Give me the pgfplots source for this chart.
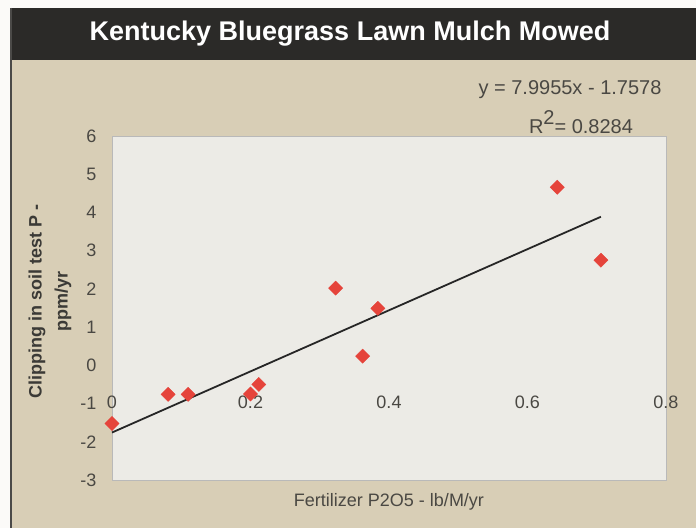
\documentclass[border=0pt]{standalone}
\usepackage{fontspec}
\setmainfont{Liberation Sans}
\usepackage{pgfplots}
\pgfplotsset{compat=1.18}
\definecolor{hdr}{HTML}{2B2A28}
\definecolor{tanbg}{HTML}{D8CEB6}
\definecolor{plotbg}{HTML}{ECEBE6}
\definecolor{mk}{HTML}{E5443B}
\definecolor{txt}{HTML}{4A4843}
\begin{document}
\begin{tikzpicture}[x=1pt,y=1pt]
\fill[white!90!tanbg] (0,0) rectangle (696,-528);
\fill[tanbg] (10,-60) rectangle (696,-528);
\fill[hdr] (10,-8) rectangle (696,-60);
\draw[hdr!85, line width=2pt] (11,-8) -- (11,-528);
\node[text=white, font=\fontsize{27}{30}\selectfont\bfseries] at (350,-34) {Kentucky Bluegrass Lawn Mulch Mowed};
\node[text=txt, font=\fontsize{20}{24}\selectfont] at (570,-90) {y = 7.9955x - 1.7578};
\node[text=txt, font=\fontsize{20}{24}\selectfont] at (581,-122) {R\raisebox{9pt}{2}= 0.8284};
\begin{axis}[
  at={(112pt,-480pt)}, anchor=south west,
  scale only axis, width=554pt, height=344pt,
  xmin=0, xmax=0.8, ymin=-3, ymax=6,
  xtick={0,0.2,0.4,0.6,0.8}, ytick={-3,-2,...,6},
  major tick length=0pt,
  axis line style={draw=gray!55, line width=0.8pt},
  axis background/.style={fill=plotbg},
  /pgf/number format/assume math mode=true,
  tick label style={text=txt, font=\fontsize{18}{20}\selectfont},
  xticklabel style={anchor=center, yshift=78pt},
  yticklabel style={xshift=-12pt},
  xlabel={Fertilizer P2O5 - lb/M/yr},
  xlabel style={at={(axis description cs:0.5,0)}, anchor=center, yshift=-22pt, text=txt, font=\fontsize{18}{20}\selectfont},
  ylabel={Clipping in soil test P -\\ppm/yr},
  ylabel style={at={(axis description cs:-0.112,0.52)}, anchor=center, align=center, text=txt!80!black, font=\fontsize{18}{26}\selectfont\bfseries},
  clip=false,
]
\addplot[only marks, mark=square*, mark size=5pt, mark options={rotate=45, fill=mk, draw=mk}] coordinates {
(0,-1.52) (0.081,-0.76) (0.110,-0.76) (0.200,-0.75) (0.212,-0.50)
(0.323,2.02) (0.362,0.24) (0.384,1.49) (0.643,4.66) (0.706,2.75)
};
\addplot[black!85, line width=1.8pt] coordinates {(0,-1.7578) (0.706,3.8870)};
\end{axis}
\end{tikzpicture}
\end{document}
